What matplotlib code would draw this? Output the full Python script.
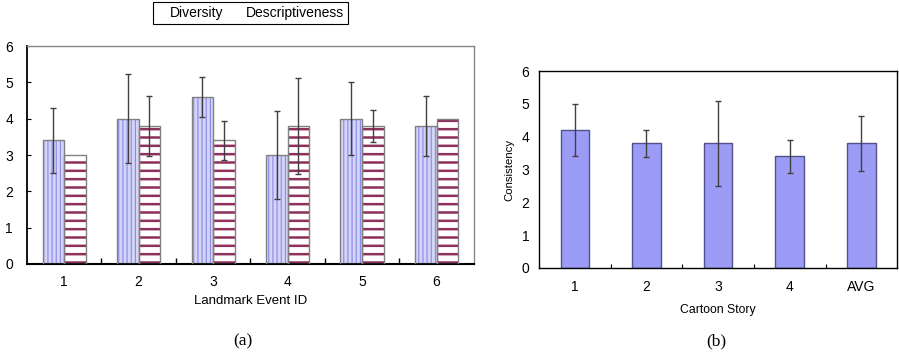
import numpy as np
import matplotlib
matplotlib.use("Agg")
import matplotlib.pyplot as plt
from matplotlib.patches import Patch

plt.rcParams['font.family'] = ['Liberation Sans', 'DejaVu Sans']

# --- datos (a) ---
event_ids = ['1', '2', '3', '4', '5', '6']
diversity = [3.4, 4.0, 4.6, 3.0, 4.0, 3.8]
diversity_err = [0.9, 1.22, 0.55, 1.22, 1.0, 0.83]
descript = [3.0, 3.8, 3.4, 3.8, 3.8, 4.0]
descript_err = [0.0, 0.82, 0.54, 1.32, 0.45, 0.0]

# --- datos (b) ---
stories = ['1', '2', '3', '4', 'AVG']
consistency = [4.2, 3.8, 3.8, 3.4, 3.8]
consistency_err = [0.8, 0.41, 1.3, 0.5, 0.83]

fig = plt.figure(figsize=(8.99, 3.63), dpi=100)
ax1 = fig.add_axes([0.030, 0.273, 0.497, 0.600])
ax2 = fig.add_axes([0.5996, 0.262, 0.3984, 0.542])

# --- grafica (a) ---
x = np.arange(len(event_ids))
w = 0.29
err_kw = dict(ecolor='#404040', elinewidth=1.0, capsize=2.5, capthick=1.0)

plt.rcParams['hatch.linewidth'] = 0.8
ax1.bar(x - w / 2, diversity, w, color='#d4d4f7', edgecolor='#8a8ae6',
        linewidth=0, hatch='||||', zorder=2)
plt.rcParams['hatch.linewidth'] = 1.8
ax1.bar(x + w / 2, descript, w, color='white', edgecolor='#8e2f5c',
        linewidth=0, hatch='--', zorder=2)
# bordes grises
ax1.bar(x - w / 2, diversity, w, fill=False, edgecolor='#808080', linewidth=1.0, zorder=3)
ax1.bar(x + w / 2, descript, w, fill=False, edgecolor='#808080', linewidth=1.0, zorder=3)
ax1.errorbar(x - w / 2, diversity, yerr=diversity_err, fmt='none', zorder=4, **err_kw)
desc_mask = np.array(descript_err) > 0
ax1.errorbar((x + w / 2)[desc_mask], np.array(descript)[desc_mask],
             yerr=np.array(descript_err)[desc_mask], fmt='none', zorder=4, **err_kw)

ax1.set_xlim(-0.5, len(event_ids) - 0.5)
ax1.set_ylim(0, 6)
ax1.set_yticks(range(7))
ax1.set_xticks(x)
ax1.set_xticklabels(event_ids)
ax1.set_xticks(np.arange(0.5, len(event_ids) - 0.5, 1), minor=True)
ax1.tick_params(axis='x', which='major', length=0, pad=8, labelsize=10)
ax1.tick_params(axis='x', which='minor', direction='in', length=4, width=1)
ax1.tick_params(axis='y', direction='in', length=3, pad=10, labelsize=10)
ax1.set_xlabel('Landmark Event ID', fontsize=9.5, labelpad=4)
for s in ['top', 'right']:
    ax1.spines[s].set_color('#888888')
    ax1.spines[s].set_linewidth(1.0)
ax1.spines['left'].set_linewidth(1.3)
ax1.spines['bottom'].set_linewidth(1.5)

handles = [Patch(visible=False), Patch(visible=False)]
leg = ax1.legend(handles, ['Diversity', 'Descriptiveness'], ncol=2,
                 loc='lower center', bbox_to_anchor=(0.5, 1.07),
                 handlelength=0.9, handletextpad=0, columnspacing=0.7,
                 fancybox=False, edgecolor='black', fontsize=10,
                 borderpad=0.3, framealpha=1)
leg.get_frame().set_linewidth(0.8)

# --- grafica (b) ---
x2 = np.arange(len(stories))
ax2.bar(x2, consistency, 0.4, color='#9c9cf7', edgecolor='#50508a',
        linewidth=1.0, zorder=2)
ax2.errorbar(x2, consistency, yerr=consistency_err, fmt='none', zorder=3,
             ecolor='#404040', elinewidth=1.0, capsize=2.5, capthick=1.0)
ax2.set_xlim(-0.5, len(stories) - 0.5)
ax2.set_ylim(0, 6)
ax2.set_yticks(range(7))
ax2.set_xticks(x2)
ax2.set_xticklabels(stories)
ax2.set_xticks(np.arange(0.5, len(stories) - 0.5, 1), minor=True)
ax2.tick_params(axis='x', which='major', length=0, pad=9, labelsize=10)
ax2.tick_params(axis='x', which='minor', direction='in', length=3, width=0.8)
ax2.tick_params(axis='y', direction='in', length=0, pad=7, labelsize=10)
ax2.set_xlabel('Cartoon Story', fontsize=8.8, labelpad=7)
ax2.set_ylabel('Consistency', fontsize=8.2, labelpad=5)
for s in ax2.spines.values():
    s.set_linewidth(1.0)

fig.text(243 / 899, 1 - 341 / 363, '(a)', ha='center', va='center',
         family='Liberation Serif', fontsize=12.5)
fig.text(716 / 899, 1 - 341 / 363, '(b)', ha='center', va='center',
         family='Liberation Serif', fontsize=12.5)

fig.savefig('out.png', dpi=100)
